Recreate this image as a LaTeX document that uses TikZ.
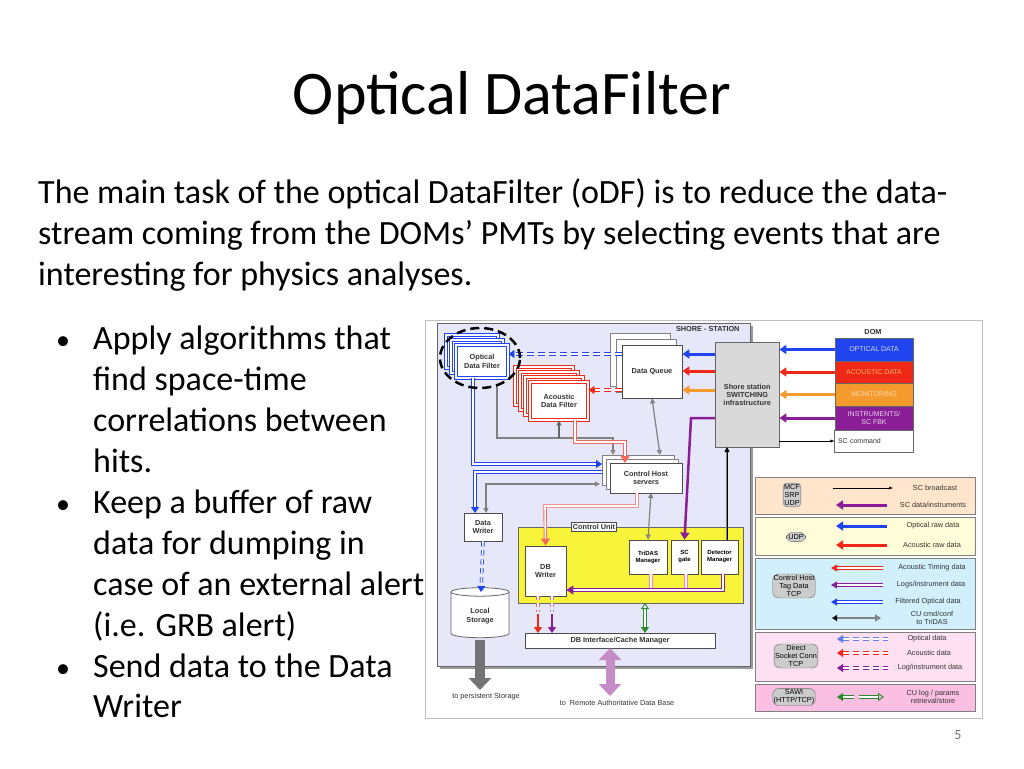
\documentclass[tikz,border=0pt]{standalone}
\usepackage{fontspec}
\setmainfont{Carlito}
\newfontfamily\dfont{Liberation Sans}
\usetikzlibrary{arrows.meta,shapes.geometric}
\definecolor{lav}{HTML}{E6E8FA}
\definecolor{cblue}{HTML}{2244EE}
\definecolor{cred}{HTML}{F02818}
\definecolor{corange}{HTML}{F59A2C}
\definecolor{cpurple}{HTML}{8A1E96}
\definecolor{cgreen}{HTML}{2A8A2A}
\definecolor{cyel}{HTML}{F8F43A}
\begin{document}
\begin{tikzpicture}[x=1pt,y=-1pt,
  body/.style={anchor=base west,font=\fontsize{34}{36}\selectfont,inner sep=0},
  dtxt/.style={font=\dfont\bfseries\fontsize{7.3}{8.3}\selectfont,align=center,text=black!80},
  ltxt/.style={font=\dfont\fontsize{7.3}{8.3}\selectfont,align=center,text=black!80},
  wbox/.style={draw=black!70,fill=white,thick},
  proto/.style={draw=black!60,fill=black!20,rounded corners=6pt,font=\dfont\fontsize{7.3}{8.3}\selectfont,align=center,inner sep=2pt},
  fat/.style={line width=3pt,-{Triangle[length=7pt,width=9pt]}},
  dbl/.style={double=white,line width=0.9pt,double distance=1.6pt},
  gline/.style={draw=black!50,line width=1.2pt},
]
\useasboundingbox (0,0) rectangle (1024,768);
\fill[white] (0,0) rectangle (1024,768);
% title and text
\node[font=\fontsize{62}{64}\selectfont] (title) at (512,98) {Optical DataFilter};
\node[body] (t1) at (38,203) {The main task of the optical DataFilter (oDF) is to reduce the data-};
\node[body] (t2) at (38,244) {stream coming from the DOMs{\char"0027} PMTs by selecting events that are};
\node[body] (t3) at (38,285) {interesting for physics analyses.};
\foreach \y/\b/\s [count=\i] in {349/1/Apply algorithms that,390/0/find space-time,431/0/correlations between,472/0/hits.,513/1/Keep a buffer of raw,554/0/data for dumping in,595/0/case of an external alert,636/0/(i.e. GRB alert),677/1/Send data to the Data,717/0/Writer}{
  \node[body] (b\i) at (93,\y) {\s};
  \ifnum\b=1 \node[body,font=\fontsize{28}{30}\selectfont] (bu\i) at (56,\y) {•}; \fi
}
\node[text=black!55,font=\fontsize{14}{16}\selectfont] (pg) at (958,735) {5};
% diagram frame
\draw[black!25,fill=white] (425,320) rectangle (982,718);
\fill[black!40] (440,326) rectangle (753,669);
\draw[black!60,fill=lav] (437,323) rectangle (750,666);
\node[dtxt,anchor=north east] (shore) at (743,323) {SHORE - STATION};
% Optical Data Filter stack
\foreach \d in {10,5}{\draw[cblue,dbl,fill=white] (456-\d,345-\d) rectangle (508-\d,378-\d);}
\node[draw=cblue,dbl,fill=white,minimum width=52pt,minimum height=33pt,dtxt] (odf) at (482,361.5) {Optical\\Data Filter};
% Data Queue stack
\foreach \d in {12,6}{\draw[black!50,fill=white] (622-\d,345-\d) rectangle (682-\d,398-\d);}
\node[wbox,minimum width=60pt,minimum height=53pt,dtxt] (dq) at (652,371.5) {Data Queue};
% Acoustic stack
\foreach \d in {15,10,5}{\draw[cred,dbl,fill=white] (530-\d,382-\d) rectangle (588-\d,420-\d);}
\node[draw=cred,dbl,fill=white,minimum width=58pt,minimum height=38pt,dtxt] (adf) at (559,401) {Acoustic\\Data Filter};
% Switching
\node[draw=black!60,fill=black!15,minimum width=64pt,minimum height=105pt,dtxt,anchor=north west,inner sep=1pt] (sw) at (715,342) {Shore station\\SWITCHING\\infrastructure};
% Control host
\foreach \d in {8,4}{\draw[black!50,fill=white] (610-\d,463-\d) rectangle (682-\d,493-\d);}
\node[wbox,minimum width=72pt,minimum height=30pt,dtxt] (ch) at (646,478) {Control Host\\servers};
% Data writer
\node[wbox,minimum width=38pt,minimum height=28pt,dtxt,inner sep=1pt] (dw) at (483,527) {Data\\Writer};
% local storage
\node[cylinder,shape border rotate=90,aspect=0.25,draw=black!60,fill=white,thick,minimum width=58pt,minimum height=50pt,dtxt] (ls) at (480,616) {Local\\Storage};
% Control unit
\node[draw=black!60,fill=cyel,thick,minimum width=225pt,minimum height=76pt] (cu) at (630.5,565) {};
\node[wbox,dtxt,inner sep=1.5pt] (cul) at (594,527) {Control Unit};
\node[wbox,minimum width=41pt,minimum height=50pt,dtxt] (dbw) at (545.5,571) {DB\\Writer};
\node[wbox,minimum width=38pt,minimum height=34pt,font=\dfont\bfseries\fontsize{6}{7}\selectfont,align=center,inner sep=1pt] (tri) at (648,557) {TriDAS\\Manager};
\node[wbox,minimum width=27pt,minimum height=34pt,font=\dfont\bfseries\fontsize{6}{7}\selectfont,align=center,inner sep=1pt] (scg) at (684.5,557) {SC\\gate};
\node[wbox,minimum width=37pt,minimum height=34pt,font=\dfont\bfseries\fontsize{6}{7}\selectfont,align=center,inner sep=1pt] (det) at (719.5,557) {Detector\\Manager};
\node[wbox,minimum width=190pt,minimum height=15pt,dtxt] (dbi) at (620,640.5) {DB Interface/Cache Manager};
% DOM
\node[dtxt] (domt) at (873,332) {DOM};
\node[draw=black!60,fill=cblue,minimum width=78pt,minimum height=23pt,font=\dfont\fontsize{7}{8}\selectfont,text=white!80!cblue] (dom1) at (874,349.5) {OPTICAL DATA};
\node[draw=black!60,fill=cred,minimum width=78pt,minimum height=22pt,font=\dfont\fontsize{7}{8}\selectfont,text=orange!60] (dom2) at (874,372) {ACOUSTIC DATA};
\node[draw=black!60,fill=corange,minimum width=78pt,minimum height=23pt,font=\dfont\fontsize{7}{8}\selectfont,text=orange!30] (dom3) at (874,394.5) {MONITORING};
\node[draw=black!60,fill=cpurple,minimum width=78pt,minimum height=24pt,font=\dfont\fontsize{7}{8}\selectfont,text=white!80!cpurple,align=center] (dom4) at (874,418) {INSTRUMENTS/\\SC FBK};
\node[draw=black!60,fill=white,minimum width=78pt,minimum height=22pt,font=\dfont\fontsize{7}{8}\selectfont,text=black!80,text width=72pt] (dom5) at (874,441) {SC command};
% DOM -> switching
\draw[cblue,fat] (dom1.west) -- (sw.east |- dom1);
\draw[cred,fat] (dom2.west) -- (sw.east |- dom2);
\draw[corange,fat] (dom3.west) -- (sw.east |- dom3);
\draw[cpurple,fat] (dom4.west) -- (sw.east |- dom4);
\draw[-{Latex[length=4pt]},black] (sw.east |- dom5) -- (dom5.west);
% switching -> data queue
\draw[cblue,fat] (sw.west |- 0,354) -- (dq.east |- 0,354);
\draw[cred,fat] (sw.west |- 0,371) -- (dq.east |- 0,371);
\draw[corange,fat] (sw.west |- 0,390) -- (dq.east |- 0,390);
% DQ -> filters dashed
\draw[cblue,dbl,dash pattern=on 7pt off 4pt,-{Triangle[length=6pt,width=8pt]}] (dq.west |- 0,354) -- (odf.east |- 0,354);
\draw[cred,dbl,dash pattern=on 7pt off 4pt] (dq.west |- 0,390) -- (594,390);
\draw[cred,-{Triangle[length=6pt,width=8pt]},line width=2pt] (594,390) -- (adf.east |- 0,390);
% ODF -> control host (blue double)
\draw[cblue,dbl,-{Triangle[length=6pt,width=8pt]}] (473,378) -- (473,464) -- (602,464);
\draw[cblue,dbl,-{Triangle[length=6pt,width=8pt]}] (602,472) -- (475,472) -- (475,513);
% gray lines
\draw[gline,-{Triangle[open,length=5pt,width=5pt]}] (497,386) -- (497,438) -- (613,438) -- (613,455);
\draw[gline,-{Triangle[length=5pt,width=5pt]},black!60] (559,438) -- (adf.south);
\draw[gline,{Triangle[length=5pt,width=5pt]}-{Triangle[open,length=5pt,width=5pt]}] (dq.south) -- (660,455);
\draw[gline,{Triangle[length=5pt,width=5pt]}-{Triangle[open,length=5pt,width=5pt]}] (486,513) -- (486,484) -- (600,484);
\draw[gline,{Triangle[length=5pt,width=5pt]}-{Triangle[open,length=5pt,width=5pt]}] (651,493) -- (tri.north);
\draw[gline] (sw.south -| 727,0) -- (727,540);
\draw[-{Triangle[length=5pt,width=5pt]},black] (727,540) -- (727,447);
% red double lines
\draw[cred!70,dbl,-{Triangle[length=7pt,width=9pt]}] (575,420) -- (575,442) -- (625,442) -- (625,463);
\draw[cred!70,dbl,-{Triangle[length=7pt,width=9pt]}] (637,493) -- (637,506) -- (545,506) -- (dbw.north);
% purple to SC gate
\draw[cpurple,line width=2.5pt,-{Triangle[length=7pt,width=9pt]}] (715,418) -- (691,418) -- (scg.north);
% pink lines inside CU
\draw[magenta!50,dbl] (651,574) -- (651,590);
\draw[magenta!50,dbl] (686,574) -- (686,590);
\draw[magenta!50,dbl,-{Triangle[length=7pt,width=9pt]},cpurple] (723,574) -- (723,590) -- (dbw.east |- 0,590);
% DB writer -> DBI
\draw[cred!70,dbl,dash pattern=on 4pt off 3pt] (538,596) -- (538,612);
\draw[cred,-{Triangle[length=6pt,width=8pt]},line width=2pt] (538,614) -- (538,633);
\draw[cpurple!60,dbl,dash pattern=on 4pt off 3pt] (552,596) -- (552,612);
\draw[cpurple,-{Triangle[length=6pt,width=8pt]},line width=2pt] (552,614) -- (552,633);
\draw[cgreen,dbl,{Triangle[open,length=6pt,width=8pt]}-{Triangle[length=6pt,width=8pt]}] (645,603) -- (645,633);
% data writer -> local storage
\draw[cblue!70,dbl,dash pattern=on 5pt off 4pt,-{Triangle[length=6pt,width=8pt]},cblue] (dw.south) -- (481,592);
% ODF dashed ellipse
\draw[black,line width=2.5pt,dash pattern=on 9pt off 5pt] (480,358) ellipse (40pt and 30pt);
% outgoing arrows
\draw[black!55,line width=10pt,-{Triangle[length=12pt,width=22pt]}] (480,640) -- (480,690);
\node[ltxt] (ps) at (486,697) {to persistent Storage};
\draw[violet!45,line width=9pt,{Triangle[length=12pt,width=22pt]}-{Triangle[length=12pt,width=22pt]}] (610,648) -- (610,696);
\node[ltxt] (rdb) at (617,703) {to\ \ Remote Authoritative Data Base};
% legend
\draw[black!50,fill=orange!20] (755,477) rectangle (975,514);
\draw[black!50,fill=yellow!15] (755,517) rectangle (975,555);
\draw[black!50,fill=cyan!18] (755,558) rectangle (975,629);
\draw[black!50,fill=magenta!12] (755,632) rectangle (975,681);
\draw[black!50,fill=magenta!25] (755,684) rectangle (975,711);
\node[proto,rounded corners=4pt,inner sep=1pt] (p1) at (792,495) {MCF\\SRP\\UDP};
\node[proto] (p2) at (796,537) {UDP};
\node[proto,inner sep=1pt] (p3) at (794,586) {Control Host\\Tag Data\\TCP};
\node[proto,inner sep=1pt] (p4) at (796,656) {Direct\\Socket Conn\\TCP};
\node[proto,inner sep=1pt] (p5) at (794,697) {SAWI\\(HTTP/TCP)};
% legend labels
\node[ltxt] (l1) at (935,488) {SC broadcast};
\node[ltxt] (l2) at (933,505) {SC data/instruments};
\node[ltxt] (l3) at (933,526) {Optical raw data};
\node[ltxt] (l4) at (932,545) {Acoustic raw data};
\node[ltxt] (l5) at (932,568) {Acoustic Timing data};
\node[ltxt] (l6) at (931,585) {Logs/instrument data};
\node[ltxt] (l7) at (928,602) {Filtered Optical data};
\node[ltxt] (l8) at (932,618) {CU cmd/conf\\to TriDAS};
\node[ltxt] (l9) at (927,639) {Optical data};
\node[ltxt] (l10) at (929,653) {Acoustic data};
\node[ltxt] (l11) at (930,668) {Log/instrument data};
\node[ltxt] (l12) at (933,697) {CU log / params\\retrieval/store};
\coordinate (a1) at (833,488); \coordinate (b1) at (893,488);
\draw[-{Latex[length=4pt]}] (a1) -- (b1);
\draw[cpurple,fat] (887,505) -- (836,505);
\draw[cblue,fat] (887,526) -- (836,526);
\draw[cred,fat] (887,545) -- (836,545);
\draw[cred,dbl,-{Triangle[length=6pt,width=7pt]}] (883,568) -- (831,568);
\draw[cpurple,dbl,-{Triangle[length=6pt,width=7pt]}] (883,585) -- (831,585);
\draw[cblue,dbl,-{Triangle[length=6pt,width=7pt]}] (883,602) -- (831,602);
\draw[black!50,line width=1.5pt,{Triangle[length=5pt,width=6pt,black]}-{Triangle[open,length=6pt,width=7pt]}] (832,618) -- (881,618);
\draw[cblue!70,dbl,dash pattern=on 6pt off 4pt,{Triangle[length=6pt,width=8pt]}-] (837,639) -- (888,639);
\draw[cred,dbl,dash pattern=on 6pt off 4pt,{Triangle[length=6pt,width=8pt]}-] (837,653) -- (888,653);
\draw[cpurple,dbl,dash pattern=on 6pt off 4pt,{Triangle[length=6pt,width=8pt]}-] (837,668) -- (888,668);
\draw[cgreen,dbl,{Triangle[length=6pt,width=8pt]}-] (837,697) -- (854,697);
\draw[cgreen,dbl,-{Triangle[open,length=6pt,width=8pt]}] (859,697) -- (884,697);
\end{tikzpicture}
\end{document}
